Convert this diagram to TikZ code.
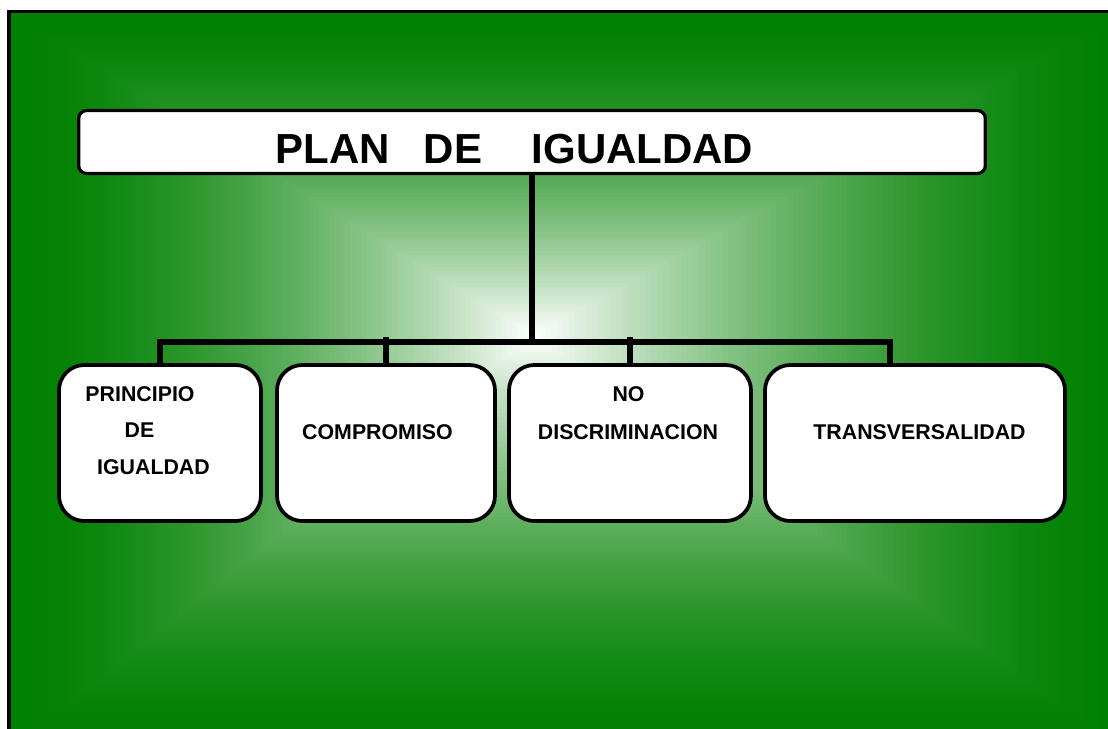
\documentclass[tikz,border=0pt]{standalone}
\usepackage{fontspec}
\setmainfont{Liberation Sans}
\definecolor{bggreen}{RGB}{0,128,0}
\tikzset{
  conn/.style={line width=4.2pt},
  box/.style={draw, line width=2.8pt, fill=white, rounded corners=19pt, inner sep=0pt},
  titlebox/.style={draw, line width=2.4pt, fill=white, rounded corners=6pt, inner sep=0pt},
  lbl/.style={font=\fontsize{16}{18}\selectfont\bfseries, inner sep=0pt},
  ttl/.style={font=\fontsize{31.5}{36}\selectfont\bfseries, inner sep=0pt}
}
\begin{document}
\begin{tikzpicture}[x=0.75pt,y=-0.75pt]
\useasboundingbox (0,0) rectangle (1108,729);
\begin{scope}
  \clip (0,0) rectangle (1108,729);
  \fill[bggreen] (9,11.5) rectangle (1130,750);
  \foreach \k in {1,...,100} {
    \pgfmathsetmacro\w{100*(\k/100)^1.6}
    \pgfmathsetmacro\s{1-\k/100}
    \pgfmathsetmacro\xl{533-(533-11)*\s}
    \pgfmathsetmacro\xr{533+(1125-533)*\s}
    \pgfmathsetmacro\yt{335-(335-13)*\s}
    \pgfmathsetmacro\yb{335+(748-335)*\s}
    \fill[white!\w!bggreen] (\xl,\yt) rectangle (\xr,\yb);
  }
  \draw[line width=2.6pt] (9,11.5) rectangle (1130,750);
\end{scope}

% boxes
\node[titlebox, minimum width=680pt, minimum height=47.25pt] (title) at (532,142) {};
\node[box, minimum width=151.5pt, minimum height=117pt] (b1) at (160,443) {};
\node[box, minimum width=163.5pt, minimum height=117pt] (b2) at (386,443) {};
\node[box, minimum width=181.5pt, minimum height=117pt] (b3) at (630,443) {};
\node[box, minimum width=225pt, minimum height=117pt] (b4) at (915,443) {};

% connectors
\coordinate (bus) at (532,342);
\coordinate (busR) at (890,342);
\draw[conn] (title.south) -- (title.south |- bus);
\draw[conn] (b1.north) -- (b1.north |- bus) -- (busR) -- (busR |- b4.north);
\draw[conn] ([yshift=3.75pt]b2.north |- bus) -- (b2.north);
\draw[conn] ([yshift=3.75pt]b3.north |- bus) -- (b3.north);

% title text
\node[ttl] (tw1) at (332.5,149.5) {PLAN};
\node[ttl] (tw2) at (453,149.5) {DE};
\node[ttl] (tw3) at (642.5,149.5) {IGUALDAD};

% box texts
\node[lbl] (t1a) at (140,394) {PRINCIPIO};
\node[lbl] (t1b) at (139.5,430) {DE};
\node[lbl] (t1c) at (153.5,467.5) {IGUALDAD};
\node[lbl] (t2) at (377.5,431.7) {COMPROMISO};
\node[lbl] (t3a) at (628.5,394) {NO};
\node[lbl] (t3b) at (628,432) {DISCRIMINACION};
\node[lbl] (t4) at (919.5,432) {TRANSVERSALIDAD};
\end{tikzpicture}
\end{document}
